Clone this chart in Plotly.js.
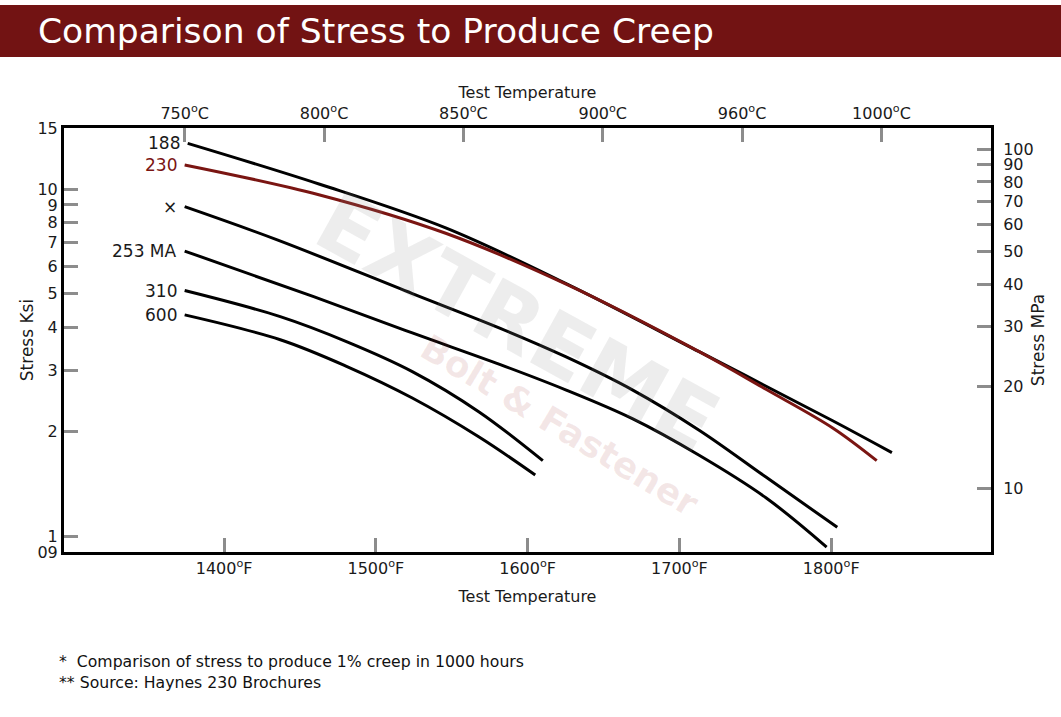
<!DOCTYPE html>
<html>
<head>
<meta charset="utf-8">
<script src="https://cdn.plot.ly/plotly-3.0.1.min.js"></script>
<style>
html,body{margin:0;padding:0;background:#fff;}
#chart{width:1061px;height:717px;}
</style>
</head>
<body>
<div id="chart"></div>
<script>
// ---- Data (temperature in °F, stress in ksi) ----
const t188 = [1376, 1463, 1546, 1625, 1713, 1801, 1840];
const s188 = [13.55, 10.33, 7.73, 5.35, 3.40, 2.15, 1.74];

const t230 = [1374, 1463, 1546, 1625, 1713, 1757, 1801, 1830];
const s230 = [11.74, 9.62, 7.46, 5.33, 3.40, 2.65, 2.05, 1.65];

const tX = [1374, 1435, 1524, 1582, 1625, 1669, 1713, 1757, 1804];
const sX = [8.90, 7.14, 5.00, 3.97, 3.29, 2.64, 2.02, 1.48, 1.06];

const t253 = [1374, 1459, 1524, 1582, 1625, 1669, 1713, 1757, 1797];
const s253 = [6.63, 4.90, 3.85, 3.12, 2.64, 2.18, 1.71, 1.29, 0.93];

const t310 = [1374, 1437, 1481, 1524, 1568, 1610];
const s310 = [5.10, 4.29, 3.63, 2.98, 2.28, 1.65];

const t600 = [1374, 1437, 1481, 1524, 1568, 1605];
const s600 = [4.34, 3.68, 3.08, 2.50, 1.93, 1.50];

const seriesLabels = ['188', '230', '\u00d7', '253 MA', '310', '600'];

// ---- Tick values / labels ----
const fTicks = [1400, 1500, 1600, 1700, 1800];
const cTicks = [750, 800, 850, 900, 950, 1000];
const cLabels = ['750', '800', '850', '900', '960', '1000'];
const ksiTicks = [0.9, 1, 2, 3, 4, 5, 6, 7, 8, 9, 10, 15];
const ksiLabels = ['09', '1', '2', '3', '4', '5', '6', '7', '8', '9', '10', '15'];
const mpaTicks = [10, 20, 30, 40, 50, 60, 70, 80, 90, 100];

const titleText = 'Comparison of Stress to Produce Creep';
const axisTempTitle = 'Test Temperature';
const note1 = '*\u00a0 Comparison of stress to produce 1% creep in 1000 hours';
const note2 = '** Source: Haynes 230 Brochures';

// ---- Layout geometry ----
const W = 1061, H = 717, ML = 64, MR = 70, MT = 128, MB = 165;
const PW = W - ML - MR, PH = H - MT - MB;
const px = x => (x - ML) / PW;
const py = y => (H - MB - y) / PH;

const RED = '#7a1512';
const FONT = 'DejaVu Sans, Open Sans, sans-serif';
const TXT = '#1a1a1a';

const series = [
  {t: t188, s: s188, color: '#000000'},
  {t: t230, s: s230, color: RED},
  {t: tX, s: sX, color: '#000000'},
  {t: t253, s: s253, color: '#000000'},
  {t: t310, s: s310, color: '#000000'},
  {t: t600, s: s600, color: '#000000'}
];

const traces = series.map((d, i) => ({
  type: 'scatter', mode: 'lines', x: d.t, y: d.s,
  xaxis: 'x', yaxis: 'y', name: seriesLabels[i],
  line: {color: d.color, width: 3, shape: 'spline', smoothing: 1},
  hoverinfo: 'skip', showlegend: false
}));
// empty trace to register the secondary (top / right) axes
traces.push({type: 'scatter', mode: 'lines', x: [], y: [], xaxis: 'x2', yaxis: 'y2',
  showlegend: false, hoverinfo: 'skip'});

const tickStyle = {
  ticks: 'inside', ticklen: 14, tickwidth: 3, tickcolor: '#8c8c8c',
  showline: true, linecolor: '#000', linewidth: 3,
  showgrid: false, zeroline: false,
  tickfont: {family: FONT, size: 16, color: TXT}
};
const xTitleFont = {family: FONT, size: 16, color: TXT};
const yTitleFont = {family: FONT, size: 17, color: TXT};

const annotations = series.map((d, i) => ({
  xref: 'x', yref: 'y', x: d.t[0], y: Math.log10(d.s[0]),
  text: seriesLabels[i], showarrow: false, xanchor: 'right', yanchor: 'middle',
  xshift: -6, font: {family: FONT, size: 17, color: d.color === RED ? RED : TXT}
}));

// watermark
annotations.push({
  xref: 'paper', yref: 'paper', x: px(517), y: py(322), xanchor: 'center', yanchor: 'middle',
  text: 'EXTREME', showarrow: false, textangle: 29,
  font: {family: 'DejaVu Sans, sans-serif', size: 84, weight: 700, color: 'rgba(140,140,140,0.16)'}
});
annotations.push({
  xref: 'paper', yref: 'paper', x: px(560), y: py(425), xanchor: 'center', yanchor: 'middle',
  text: 'Bolt &amp; Fastener', showarrow: false, textangle: 31,
  font: {family: 'DejaVu Sans, sans-serif', size: 36, weight: 700, color: 'rgba(160,60,60,0.12)'}
});

// footnotes
annotations.push({
  xref: 'paper', yref: 'paper', x: px(57), y: py(661), xanchor: 'left', yanchor: 'middle',
  text: note1, showarrow: false, font: {family: FONT, size: 15.7, color: '#111'}
});
annotations.push({
  xref: 'paper', yref: 'paper', x: px(57), y: py(682), xanchor: 'left', yanchor: 'middle',
  text: note2, showarrow: false, font: {family: FONT, size: 15.7, color: '#111'}
});

const layout = {
  width: W, height: H,
  margin: {l: ML, r: MR, t: MT, b: MB, pad: 0},
  paper_bgcolor: '#fff', plot_bgcolor: '#fff',
  showlegend: false,
  title: {
    text: titleText, xref: 'container', yref: 'container',
    x: 38 / W, xanchor: 'left', y: 1 - 31 / H, yanchor: 'middle',
    font: {family: 'DejaVu Sans, Open Sans, sans-serif', size: 34.5, color: '#ffffff'}
  },
  shapes: [{
    type: 'rect', xref: 'paper', yref: 'paper', layer: 'below',
    x0: px(0), x1: px(W), y0: py(57), y1: py(5),
    fillcolor: '#721313', line: {width: 0}
  }],
  xaxis: Object.assign({}, tickStyle, {
    type: 'linear', range: [1294.5, 1905.3], side: 'bottom', anchor: 'y',
    tickvals: fTicks, ticktext: fTicks.map(v => v + '<sup>o</sup>F'),
    title: {text: axisTempTitle, font: xTitleFont, standoff: 14}
  }),
  xaxis2: Object.assign({}, tickStyle, {
    type: 'linear', range: [706.7, 1039.3], side: 'top', overlaying: 'x', anchor: 'y',
    tickvals: cTicks, ticktext: cLabels.map(v => v + '<sup>o</sup>C'),
    title: {text: axisTempTitle, font: xTitleFont, standoff: 0}
  }),
  yaxis: Object.assign({}, tickStyle, {
    type: 'log', range: [Math.log10(0.9), Math.log10(15)], side: 'left', anchor: 'x',
    tickvals: ksiTicks, ticktext: ksiLabels,
    title: {text: 'Stress Ksi', font: yTitleFont, standoff: 0}
  }),
  yaxis2: Object.assign({}, tickStyle, {
    type: 'log', range: [0.812, 2.062], side: 'right', overlaying: 'y', anchor: 'x',
    tickvals: mpaTicks, ticktext: mpaTicks.map(String), ticklabelstandoff: 6,
    title: {text: 'Stress MPa', font: yTitleFont, standoff: 0}
  }),
  annotations: annotations
};

Plotly.newPlot('chart', traces, layout, {displayModeBar: false, staticPlot: true});
</script>
</body>
</html>
